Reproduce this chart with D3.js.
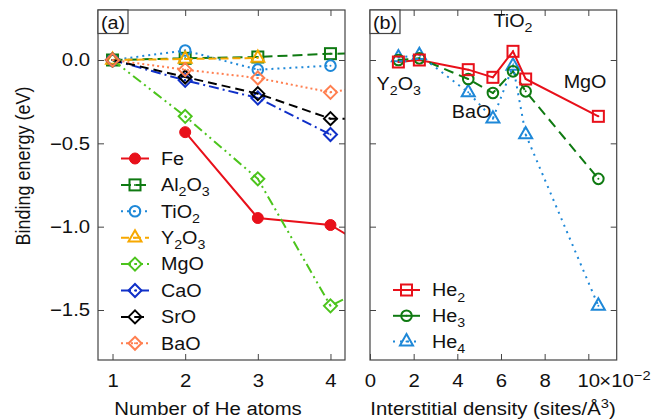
<!DOCTYPE html>
<html><head><meta charset="utf-8">
<script src="https://cdn.jsdelivr.net/npm/d3@7"></script>
<style>
html,body{margin:0;padding:0;background:#fff;}
svg text{font-family:"Liberation Sans",Arial,Helvetica,sans-serif;fill:#111;}
</style></head>
<body><svg id="c" width="671" height="420"></svg>
<script>
// ---------- DATA ----------
const heAtoms = [1, 2, 3, 4, 5];
const seriesNames = ["Fe", "Al_2O_3", "TiO_2", "Y_2O_3", "MgO", "CaO", "SrO", "BaO"];
const feVals    = [null, -0.433, -0.948, -0.99, -1.25];
const al2o3Vals = [0, 0.010, 0.018, 0.038, 0.040];
const tio2Vals  = [0, 0.057, -0.058, -0.034];
const y2o3Vals  = [0, 0.006, 0.012];
const mgoVals   = [0, -0.338, -0.713, -1.475, -1.26];
const caoVals   = [0, -0.122, -0.228, -0.447];
const sroVals   = [0, -0.102, -0.202, -0.352, -0.354];
const baoVals   = [0, -0.058, -0.108, -0.194, -0.12];

const densities = [0.0130, 0.0226, 0.0450, 0.0563, 0.0655, 0.0713, 0.1046];
const he2Vals = [-0.012, 0.000, -0.058, -0.104, 0.052, -0.114, -0.338];
const he3Vals = [0.000, 0.010, -0.114, -0.198, -0.068, -0.188, -0.713];
const he4Vals = [0.015, 0.029, -0.194, -0.352, -0.035, -0.447, -1.475];
const heNames = ["He_2", "He_3", "He_4"];

const yTicks = [0, -0.5, -1.0, -1.5];
const xTicksA = [1, 2, 3, 4];
const xTicksB = [0, 0.02, 0.04, 0.06, 0.08, 0.10];
const annotations = [
  {t: "TiO_2", x: 0.0655, y: 0.20, anchor: "middle"},
  {t: "Y_2O_3", x: 0.0030, y: -0.18, anchor: "start"},
  {t: "BaO", x: 0.0465, y: -0.35, anchor: "middle"},
  {t: "MgO", x: 0.0985, y: -0.17, anchor: "middle"}
];

// ---------- STYLES ----------
const styleA = [
  {c: "#e8101a", dash: null, m: "fcircle"},
  {c: "#0f7a12", dash: "10,5", m: "square"},
  {c: "#1e88d8", dash: "2,4", m: "circle"},
  {c: "#f7a800", dash: "8,4", m: "triangle"},
  {c: "#4cc41c", dash: "10,4,2,4,2,4", m: "diamond"},
  {c: "#1030c8", dash: "10,4,2,4", m: "diamond"},
  {c: "#000000", dash: "9,5", m: "diamond"},
  {c: "#ff7f50", dash: "2,3", m: "diamond"}
];
const styleB = [
  {c: "#e8101a", dash: null, m: "square"},
  {c: "#0f7a12", dash: "10,6", m: "circle"},
  {c: "#1e88d8", dash: "2,5", m: "triangle"}
];

const svg = d3.select("#c");
svg.append("rect").attr("width", 671).attr("height", 420).attr("fill", "#fff");

const pTop = 10, pBottom = 360;
const y = d3.scaleLinear([-1.8, 0.3], [pBottom, pTop]);
const xA = d3.scaleLinear([0.8, 4.2], [98, 345]);
const xB = d3.scaleLinear([0, 0.113], [370, 616.7]);
const FS = 18;
const SX = 1.13; // horizontal stretch of text seen in reference

function richText(sel, str, fs) {
  const parts = str.split(/(_\d)/).filter(s => s.length);
  let sub = false;
  parts.forEach(p => {
    if (p[0] === "_") {
      sel.append("tspan").attr("dy", fs * 0.3).attr("font-size", fs * 0.72).text(p.slice(1));
      sub = true;
    } else {
      sel.append("tspan").attr("dy", sub ? -fs * 0.3 : 0).text(p);
      sub = false;
    }
  });
}
function hText(parent, x, yy, anchor, fs) {
  return parent.append("g").attr("transform", `translate(${x},${yy}) scale(${SX},1)`)
    .append("text").attr("text-anchor", anchor).attr("font-size", fs);
}

function marker(g, type, cx, cy, color) {
  if (type === "fcircle") {
    g.append("circle").attr("cx", cx).attr("cy", cy).attr("r", 5.5).attr("fill", color).attr("stroke", color);
    return;
  }
  const sw = 2;
  if (type === "square") {
    g.append("rect").attr("x", cx - 5.5).attr("y", cy - 5.5).attr("width", 11).attr("height", 11)
      .attr("fill", "none").attr("stroke", color).attr("stroke-width", sw);
  } else if (type === "circle") {
    g.append("circle").attr("cx", cx).attr("cy", cy).attr("r", 5.3)
      .attr("fill", "none").attr("stroke", color).attr("stroke-width", sw);
  } else if (type === "triangle") {
    g.append("path").attr("transform", `translate(${cx},${cy})`)
      .attr("d", "M0,-7.5L6.5,3.8L-6.5,3.8Z")
      .attr("fill", "none").attr("stroke", color).attr("stroke-width", sw).attr("stroke-linejoin", "miter");
  } else if (type === "diamond") {
    g.append("path").attr("transform", `translate(${cx},${cy})`)
      .attr("d", "M0,-6.5L6.5,0L0,6.5L-6.5,0Z")
      .attr("fill", "none").attr("stroke", color).attr("stroke-width", sw);
  }
  g.append("circle").attr("cx", cx).attr("cy", cy).attr("r", 1).attr("fill", color);
}

function panel(id, x, x0, x1, xticks, xfmt) {
  const g = svg.append("g");
  svg.append("clipPath").attr("id", id).append("rect")
    .attr("x", x0).attr("y", pTop).attr("width", x1 - x0).attr("height", pBottom - pTop);
  const ax = g.append("g");
  ax.append("g").attr("transform", `translate(${x0},0)`)
    .call(d3.axisLeft(y).tickValues(yTicks).tickSize(-6).tickPadding(7)
      .tickFormat(id === "ca" ? d3.format(".1f") : () => ""));
  ax.append("g").attr("transform", `translate(${x1},0)`)
    .call(d3.axisRight(y).tickValues(yTicks).tickSize(-6).tickFormat(() => ""));
  ax.append("g").attr("transform", `translate(0,${pBottom})`)
    .call(d3.axisBottom(x).tickValues(xticks).tickSize(-6).tickPadding(14).tickFormat(xfmt));
  ax.append("g").attr("transform", `translate(0,${pTop})`)
    .call(d3.axisTop(x).tickValues(xticks).tickSize(-6).tickFormat(() => ""));
  ax.selectAll(".domain").remove();
  ax.selectAll(".tick line").attr("stroke", "#444").attr("stroke-width", 1);
  ax.selectAll(".tick text").attr("fill", "#111").attr("font-size", FS)
    .attr("font-family", "Liberation Sans, Arial, sans-serif")
    .attr("transform", `scale(${SX},1)`);
  const plot = g.append("g").attr("clip-path", `url(#${id})`);
  g.append("rect").attr("x", x0).attr("y", pTop).attr("width", x1 - x0).attr("height", pBottom - pTop)
    .attr("fill", "none").attr("stroke", "#444").attr("stroke-width", 1.2);
  return {g, plot};
}

// ---------- PANEL A ----------
const A = panel("ca", xA, 98, 345, xTicksA, d3.format("d"));
const seriesA = [feVals, al2o3Vals, tio2Vals, y2o3Vals, mgoVals, caoVals, sroVals, baoVals];
seriesA.forEach((vals, i) => {
  const st = styleA[i];
  const pts = vals.map((v, j) => [heAtoms[j], v]).filter(d => d[1] !== null);
  A.plot.append("path").datum(pts)
    .attr("d", d3.line().x(d => xA(d[0])).y(d => y(d[1])))
    .attr("fill", "none").attr("stroke", st.c).attr("stroke-width", 2)
    .attr("stroke-dasharray", st.dash);
  pts.forEach(d => marker(A.plot, st.m, xA(d[0]), y(d[1]), st.c));
});
A.g.append("rect").attr("x", 98).attr("y", 10).attr("width", 30).attr("height", 23.5)
  .attr("fill", "#fff").attr("stroke", "#444").attr("stroke-width", 1.2);
hText(A.g, 113, 28.5, "middle", 17.5).text("(a)");
const legA = A.g.append("g");
seriesNames.forEach((n, i) => {
  const st = styleA[i];
  const cy = 158.5 + i * 26.4;
  legA.append("line").attr("x1", 121).attr("x2", 149).attr("y1", cy).attr("y2", cy)
    .attr("stroke", st.c).attr("stroke-width", 2).attr("stroke-dasharray", st.dash);
  marker(legA, st.m, 135, cy, st.c);
  richText(hText(legA, 161, cy + 6.3, "start", 17.5), n, 17.5);
});

// ---------- PANEL B ----------
const B = panel("cb", xB, 370, 616.7, xTicksB, d => d3.format("d")(Math.round(d * 100)));
const seriesB = [he2Vals, he3Vals, he4Vals];
seriesB.forEach((vals, i) => {
  const st = styleB[i];
  const pts = vals.map((v, j) => [densities[j], v]);
  B.plot.append("path").datum(pts)
    .attr("d", d3.line().x(d => xB(d[0])).y(d => y(d[1])))
    .attr("fill", "none").attr("stroke", st.c).attr("stroke-width", 2)
    .attr("stroke-dasharray", st.dash);
});
[2, 1, 0].forEach(i => {
  const st = styleB[i];
  seriesB[i].forEach((v, j) => marker(B.plot, st.m, xB(densities[j]), y(v), st.c));
});
B.g.append("rect").attr("x", 370).attr("y", 10).attr("width", 30).attr("height", 23.5)
  .attr("fill", "#fff").attr("stroke", "#444").attr("stroke-width", 1.2);
hText(B.g, 385, 28.5, "middle", 17.5).text("(b)");
annotations.forEach(a => {
  richText(hText(B.g, xB(a.x), y(a.y), a.anchor, 17.5), a.t, 17.5);
});
const ex = hText(B.g, xB(0.10) + 11, 386.8, "start", FS);
ex.append("tspan").text("×10");
ex.append("tspan").attr("dy", -7).attr("font-size", 13).text("−2");
const legB = B.g.append("g");
heNames.forEach((n, i) => {
  const st = styleB[i];
  const cy = 290 + i * 25.8;
  legB.append("line").attr("x1", 393).attr("x2", 420).attr("y1", cy).attr("y2", cy)
    .attr("stroke", st.c).attr("stroke-width", 2).attr("stroke-dasharray", i === 2 ? "2,5" : null);
  marker(legB, st.m, 406.5, cy, st.c);
  richText(hText(legB, 432, cy + 6.3, "start", 17.5), n, 17.5);
});

// ---------- AXIS TITLES ----------
svg.append("text").attr("transform", `translate(30,166) scale(${SX},1) rotate(-90)`).attr("text-anchor", "middle")
  .attr("font-size", 18).text("Binding energy (eV)");
hText(svg, 208, 415, "middle", 18).text("Number of He atoms");
const xt = hText(svg, 493, 415, "middle", 18);
xt.append("tspan").text("Interstitial density (sites/Å");
xt.append("tspan").attr("dy", -7).attr("font-size", 13).text("3");
xt.append("tspan").attr("dy", 7).text(")");
</script></body></html>
